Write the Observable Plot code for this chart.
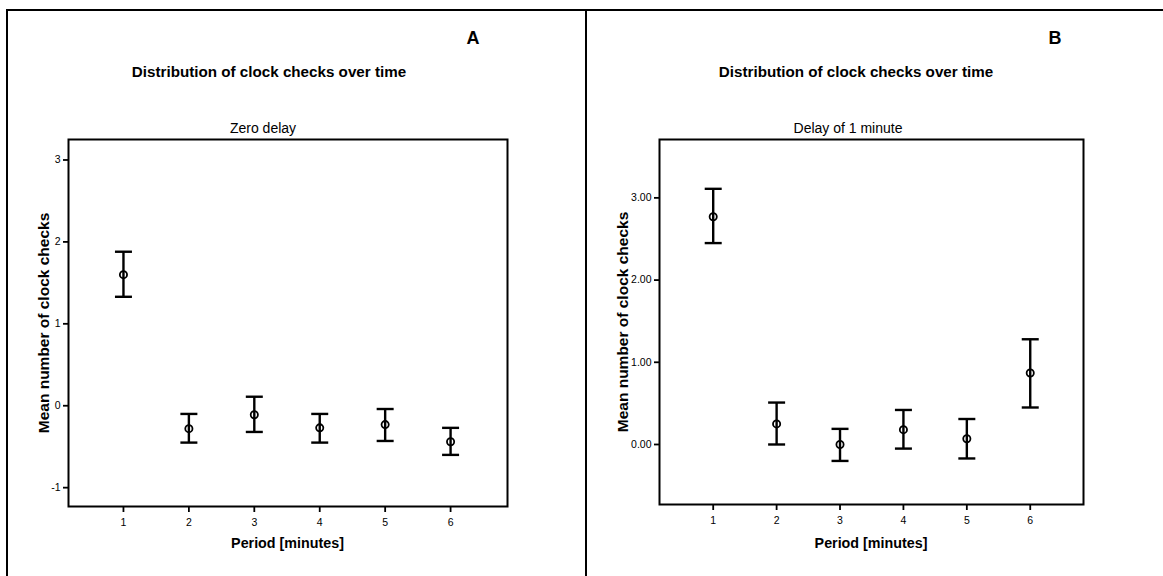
<!DOCTYPE html>
<html>
<head>
<meta charset="utf-8">
<script src="https://cdn.jsdelivr.net/npm/d3@7"></script>
<script src="https://cdn.jsdelivr.net/npm/@observablehq/plot@0.6"></script>
<style>
  html, body { margin: 0; padding: 0; background: #fff; }
  #root { position: relative; width: 1163px; height: 576px; overflow: hidden; font-family: "Liberation Sans", Arial, sans-serif; color: #000; }
  .panel { position: absolute; top: 0; height: 576px; }
  .panel svg { position: absolute; left: 0; top: 0; }
  .txt { position: absolute; transform: translate(-50%, -50%); white-space: nowrap; line-height: 1; }
  .title { font-weight: bold; font-size: 15.2px; }
  .letter { font-weight: 900; font-size: 18px; }
  .sub { font-size: 14px; }
  .xlab { font-weight: bold; font-size: 14.3px; }
  .ylab { font-weight: bold; font-size: 15.5px; transform: translate(-50%, -50%) rotate(-90deg); }
  .line { position: absolute; background: #000; }
</style>
</head>
<body>
<div id="root"></div>
<script>
// ---- data ----
const periods = [1, 2, 3, 4, 5, 6];

// Panel A: Zero delay
const meanA  = [1.60, -0.28, -0.11, -0.27, -0.23, -0.44];
const lowerA = [1.33, -0.45, -0.32, -0.45, -0.43, -0.60];
const upperA = [1.88, -0.10,  0.11, -0.10, -0.04, -0.27];
const yTicksA = [-1, 0, 1, 2, 3];

// Panel B: Delay of 1 minute
const meanB  = [2.77, 0.25, 0.00, 0.18, 0.07, 0.87];
const lowerB = [2.45, 0.00, -0.20, -0.05, -0.17, 0.45];
const upperB = [3.11, 0.51, 0.19, 0.42, 0.31, 1.28];
const yTicksB = [0, 1, 2, 3];

const xTicks = [1, 2, 3, 4, 5, 6];
const mainTitle = "Distribution of clock checks over time";
const xLabel = "Period [minutes]";
const yLabel = "Mean number of clock checks";

// ---- helpers ----
const capSymbol = {
  draw(ctx, size) {
    const r = Math.sqrt(size / Math.PI);
    ctx.moveTo(-r, 0);
    ctx.lineTo(r, 0);
  }
};

function rows(mean, lo, hi) {
  return periods.map((p, i) => ({period: p, mean: mean[i], lo: lo[i], hi: hi[i]}));
}

function makePlot(data, cfg) {
  return Plot.plot({
    width: cfg.width,
    height: 576,
    marginLeft: cfg.ml,
    marginRight: cfg.mr,
    marginTop: cfg.mt,
    marginBottom: cfg.mb,
    style: {fontFamily: '"Liberation Sans", Arial, sans-serif', fontSize: "10.5px", color: "#000", background: "transparent", overflow: "visible"},
    x: {domain: cfg.xDomain},
    y: {domain: cfg.yDomain},
    marks: [
      Plot.frame({stroke: "#000", strokeWidth: 2}),
      Plot.axisX({ticks: xTicks, tickSize: 6, tickPadding: 6, tickFormat: d => String(d), label: null, strokeWidth: 1.8}),
      Plot.axisY({ticks: cfg.yTicks, tickSize: 5, tickPadding: 3, tickFormat: cfg.yFormat, label: null, strokeWidth: 1.8}),
      Plot.ruleX(data, {x: "period", y1: "lo", y2: "hi", stroke: "#000", strokeWidth: 2.4}),
      Plot.dot(data, {x: "period", y: "hi", symbol: capSymbol, r: 8.5, stroke: "#000", strokeWidth: 2.4, fill: "none"}),
      Plot.dot(data, {x: "period", y: "lo", symbol: capSymbol, r: 8.5, stroke: "#000", strokeWidth: 2.4, fill: "none"}),
      Plot.dot(data, {x: "period", y: "mean", r: 3.6, stroke: "#000", strokeWidth: 1.8, fill: "none"})
    ]
  });
}

const root = document.getElementById("root");

function addText(parent, cls, text, x, y) {
  const d = document.createElement("div");
  d.className = "txt " + cls;
  d.textContent = text;
  d.style.left = x + "px";
  d.style.top = y + "px";
  parent.appendChild(d);
}
function addLine(x, y, w, h) {
  const d = document.createElement("div");
  d.className = "line";
  Object.assign(d.style, {left: x + "px", top: y + "px", width: w + "px", height: h + "px"});
  root.appendChild(d);
}

const panels = [
  {left: 0, width: 586, ml: 68, mr: 79, mt: 139, mb: 70,
   xDomain: [0.16, 6.87], yDomain: [-1.23, 3.25], yTicks: yTicksA, yFormat: d => String(d),
   data: rows(meanA, lowerA, upperA), letter: "A", letterX: 473, titleX: 269, sub: "Zero delay", subX: 263, ylabX: 44},
  {left: 586, width: 577, ml: 73, mr: 80, mt: 139, mb: 72,
   xDomain: [0.153, 6.84], yDomain: [-0.73, 3.71], yTicks: yTicksB, yFormat: d => d.toFixed(2),
   data: rows(meanB, lowerB, upperB), letter: "B", letterX: 469, titleX: 270, sub: "Delay of 1 minute", subX: 262, ylabX: 37}
];

for (const p of panels) {
  const div = document.createElement("div");
  div.className = "panel";
  div.style.left = p.left + "px";
  div.style.width = p.width + "px";
  root.appendChild(div);
  div.appendChild(makePlot(p.data, p));
  const frameCenterX = p.ml + (p.width - p.ml - p.mr) / 2;
  const frameCenterY = p.mt + (576 - p.mt - p.mb) / 2;
  addText(div, "letter", p.letter, p.letterX, 38);
  addText(div, "title", mainTitle, p.titleX, 72);
  addText(div, "sub", p.sub, p.subX, 128);
  addText(div, "xlab", xLabel, frameCenterX, 543);
  addText(div, "ylab", yLabel, p.ylabX, frameCenterY);
}

// outer borders
addLine(6, 9, 1157, 2);
addLine(6, 9, 2, 567);
addLine(585, 9, 2, 567);
</script>
</body>
</html>
